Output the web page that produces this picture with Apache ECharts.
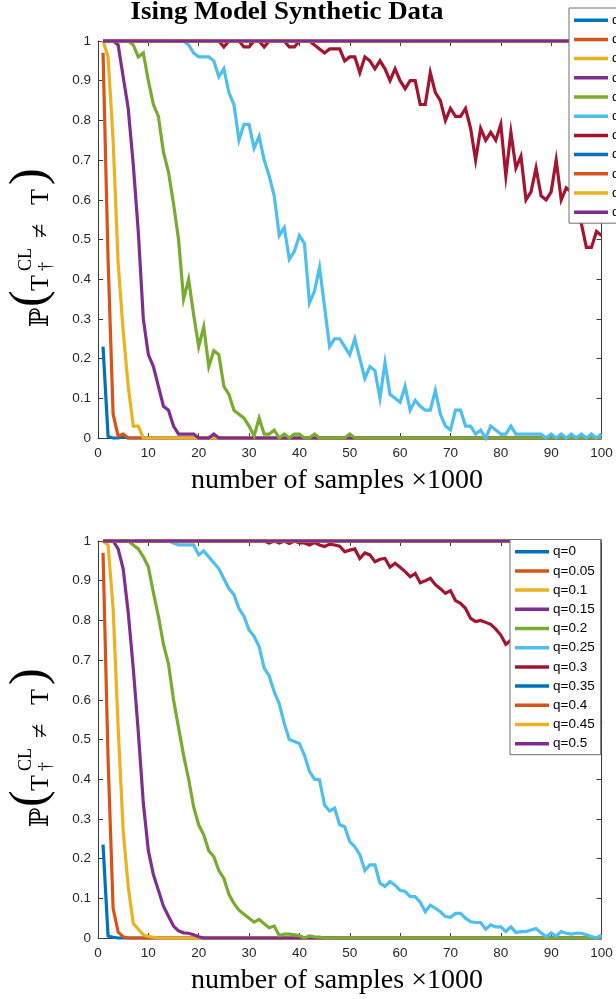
<!DOCTYPE html>
<html>
<head>
<meta charset="utf-8">
<script src="https://cdn.jsdelivr.net/npm/echarts@6/dist/echarts.min.js"></script>
<style>
  html, body { margin: 0; padding: 0; background: #fff; }
  #chart { width: 616px; height: 999px; }
</style>
</head>
<body>
<div id="chart"></div>
<script>
// Sample counts, in thousands
const samples = Array.from({ length: 100 }, (_, i) => i + 1);
const seriesNames = ['q=0', 'q=0.05', 'q=0.1', 'q=0.15', 'q=0.2', 'q=0.25', 'q=0.3', 'q=0.35', 'q=0.4', 'q=0.45', 'q=0.5'];
const xTicks = [0, 10, 20, 30, 40, 50, 60, 70, 80, 90, 100];
const yTicks = [0, 0.1, 0.2, 0.3, 0.4, 0.5, 0.6, 0.7, 0.8, 0.9, 1];

// Error probability, upper panel
const topQ0 = [
  0.23,0.004,0,0,0.003,0,0,0,0,0, 0,0,0,0,0,0,0,0,0,0, 0,0,0,0,0,0,0,0,0,0, 0,0,0,0,0,0,0,0,0,0, 0,0,0,0,0,0,0,0,0,0,
  0,0,0,0,0,0,0,0,0,0, 0,0,0,0,0,0,0,0,0,0, 0,0,0,0,0,0,0,0,0,0, 0,0,0,0,0,0,0,0,0,0, 0,0,0,0,0,0,0,0,0,0];
const topQ05 = [
  0.97,0.45,0.06,0.005,0.01,0,0,0,0,0, 0,0,0,0,0,0,0,0,0,0, 0,0,0,0,0,0,0,0,0,0, 0,0,0,0,0,0,0,0,0,0, 0,0,0,0,0,0,0,0,0,0,
  0,0,0,0,0,0,0,0,0,0, 0,0,0,0,0,0,0,0,0,0, 0,0,0,0,0,0,0,0,0,0, 0,0,0,0,0,0,0,0,0,0, 0,0,0,0,0,0,0,0,0,0];
const topQ10 = [
  1,0.96,0.75,0.44,0.27,0.13,0.03,0.03,0,0, 0,0,0,0,0,0,0,0,0,0, 0,0,0,0,0,0,0,0,0,0, 0,0,0,0,0,0,0,0,0,0, 0,0,0,0,0,0,0,0,0,0,
  0,0,0,0,0,0,0,0,0,0, 0,0,0,0,0,0,0,0,0,0, 0,0,0,0,0,0,0,0,0,0, 0,0,0,0,0,0,0,0,0,0, 0,0,0,0,0,0,0,0,0,0];
const topQ15 = [
  1,1,1,0.99,0.91,0.83,0.69,0.52,0.30,0.21,
  0.18,0.13,0.08,0.07,0.03,0.01,0.01,0.01,0.01,0,
  0,0,0.01,0,0,0,0,0,0,0, 0,0,0,0,0,0,0,0,0,0, 0,0,0,0,0,0,0,0,0,0,
  0,0,0,0,0,0,0,0,0,0, 0,0,0,0,0,0,0,0,0,0, 0,0,0,0,0,0,0,0,0,0, 0,0,0,0,0,0,0,0,0,0, 0,0,0,0,0,0,0,0,0,0];
const topQ20 = [
  1,1,1,1,1,1,0.99,0.96,0.97,0.90,
  0.84,0.81,0.72,0.67,0.59,0.50,0.35,0.40,0.31,0.23,
  0.28,0.18,0.22,0.21,0.13,0.11,0.07,0.06,0.05,0.03,
  0.005,0.05,0.01,0.01,0.02,0,0.01,0,0.01,0.01,
  0,0,0.01,0,0,0,0,0,0,0.01,
  0,0,0,0,0,0,0,0,0,0, 0,0,0,0,0,0,0,0,0,0, 0,0,0,0,0,0,0,0,0,0, 0,0,0,0,0,0,0,0,0,0, 0,0,0,0,0,0,0,0,0,0];
const topQ25 = [
  1,1,1,1,1,1,1,1,1,1,
  1,1,1,1,1,1,1,0.99,0.97,0.96,
  0.96,0.96,0.95,0.91,0.93,0.87,0.84,0.75,0.79,0.79,
  0.73,0.76,0.70,0.66,0.61,0.51,0.53,0.45,0.47,0.51,
  0.49,0.34,0.37,0.43,0.33,0.23,0.25,0.25,0.23,0.21,
  0.25,0.20,0.15,0.18,0.17,0.10,0.19,0.11,0.10,0.09,
  0.13,0.07,0.095,0.08,0.07,0.07,0.12,0.06,0.03,0.02,
  0.07,0.07,0.03,0.03,0.01,0.02,0,0.03,0.02,0.01,
  0.01,0.03,0.01,0.01,0.01,0.01,0.01,0.01,0,0.01,
  0,0.01,0,0.01,0,0.01,0,0.01,0,0.01];
const topQ30 = [
  1,1,1,1,1,1,1,1,1,1,
  1,1,1,1,1,1,1,1,1,1,
  1,1,1,1,0.985,1,1,1,0.985,0.985,
  1,1,0.985,1,1,1,1,0.985,0.985,1,
  1,1,0.99,0.98,0.97,0.98,0.98,0.98,0.95,0.96,
  0.96,0.92,0.96,0.95,0.93,0.95,0.93,0.90,0.93,0.90,
  0.88,0.90,0.90,0.84,0.84,0.92,0.87,0.85,0.80,0.83,
  0.81,0.81,0.83,0.78,0.70,0.78,0.75,0.77,0.75,0.79,
  0.66,0.77,0.68,0.71,0.60,0.62,0.68,0.61,0.60,0.62,
  0.70,0.60,0.63,0.62,0.58,0.54,0.48,0.48,0.52,0.51];
// q >= 0.35: the tree is never recovered
const flatOne = [
  1,1,1,1,1,1,1,1,1,1, 1,1,1,1,1,1,1,1,1,1, 1,1,1,1,1,1,1,1,1,1, 1,1,1,1,1,1,1,1,1,1, 1,1,1,1,1,1,1,1,1,1,
  1,1,1,1,1,1,1,1,1,1, 1,1,1,1,1,1,1,1,1,1, 1,1,1,1,1,1,1,1,1,1, 1,1,1,1,1,1,1,1,1,1, 1,1,1,1,1,1,1,1,1,1];

// Error probability, lower panel
const botQ0 = [
  0.235,0.005,0.002,0,0,0,0,0,0,0, 0,0,0,0,0,0,0,0,0,0, 0,0,0,0,0,0,0,0,0,0, 0,0,0,0,0,0,0,0,0,0, 0,0,0,0,0,0,0,0,0,0,
  0,0,0,0,0,0,0,0,0,0, 0,0,0,0,0,0,0,0,0,0, 0,0,0,0,0,0,0,0,0,0, 0,0,0,0,0,0,0,0,0,0, 0,0,0,0,0,0,0,0,0,0];
const botQ05 = [
  0.97,0.45,0.075,0.015,0.003,0,0,0,0,0, 0,0,0,0,0,0,0,0,0,0, 0,0,0,0,0,0,0,0,0,0, 0,0,0,0,0,0,0,0,0,0, 0,0,0,0,0,0,0,0,0,0,
  0,0,0,0,0,0,0,0,0,0, 0,0,0,0,0,0,0,0,0,0, 0,0,0,0,0,0,0,0,0,0, 0,0,0,0,0,0,0,0,0,0, 0,0,0,0,0,0,0,0,0,0];
const botQ10 = [
  1,0.99,0.83,0.53,0.27,0.13,0.037,0.022,0.008,0.004,
  0.002,0,0,0,0,0,0,0,0,0, 0,0,0,0,0,0,0,0,0,0, 0,0,0,0,0,0,0,0,0,0, 0,0,0,0,0,0,0,0,0,0,
  0,0,0,0,0,0,0,0,0,0, 0,0,0,0,0,0,0,0,0,0, 0,0,0,0,0,0,0,0,0,0, 0,0,0,0,0,0,0,0,0,0, 0,0,0,0,0,0,0,0,0,0];
const botQ15 = [
  1,1,1,0.98,0.93,0.82,0.68,0.52,0.34,0.22,
  0.16,0.12,0.08,0.055,0.03,0.018,0.013,0.012,0.008,0.003,
  0,0,0,0,0,0,0,0,0,0, 0,0,0,0,0,0,0,0,0,0, 0,0,0,0,0,0,0,0,0,0,
  0,0,0,0,0,0,0,0,0,0, 0,0,0,0,0,0,0,0,0,0, 0,0,0,0,0,0,0,0,0,0, 0,0,0,0,0,0,0,0,0,0, 0,0,0,0,0,0,0,0,0,0];
const botQ20 = [
  1,1,1,1,1,1,0.99,0.98,0.96,0.935,
  0.87,0.81,0.74,0.69,0.60,0.53,0.46,0.40,0.33,0.285,
  0.26,0.22,0.205,0.17,0.15,0.11,0.087,0.07,0.06,0.05,
  0.04,0.047,0.036,0.026,0.03,0.006,0.01,0.01,0.008,0.006,
  0,0.005,0.003,0.002,0,0,0,0,0,0,
  0,0,0,0,0,0,0,0,0,0, 0,0,0,0,0,0,0,0,0,0, 0,0,0,0,0,0,0,0,0,0, 0,0,0,0,0,0,0,0,0,0, 0,0,0,0,0,0,0,0,0,0];
const botQ25 = [
  1,1,1,1,1,1,1,1,1,1,
  1,1,1,1,0.995,0.99,0.99,0.99,0.99,0.965,
  0.975,0.96,0.945,0.93,0.905,0.88,0.865,0.83,0.81,0.776,
  0.76,0.734,0.68,0.66,0.62,0.59,0.54,0.50,0.495,0.49,
  0.46,0.42,0.40,0.398,0.335,0.32,0.327,0.285,0.28,0.243,
  0.23,0.21,0.17,0.184,0.184,0.138,0.13,0.142,0.133,0.12,
  0.117,0.104,0.104,0.09,0.066,0.083,0.075,0.066,0.054,0.052,
  0.062,0.062,0.05,0.041,0.039,0.039,0.022,0.033,0.028,0.028,
  0.016,0.028,0.014,0.016,0.016,0.02,0.024,0.013,0.003,0.013,
  0.005,0.016,0.012,0.01,0.012,0.012,0.008,0.004,0,0.008];
const botQ30 = [
  1,1,1,1,1,1,1,1,1,1,
  1,1,1,1,1,1,1,1,1,1,
  1,1,1,1,1,1,1,1,1,1,
  1,1,1,0.995,1,0.995,1,0.994,1,0.995,
  0.995,0.99,0.996,0.99,0.986,0.992,0.99,0.987,0.973,0.977,
  0.98,0.956,0.97,0.965,0.948,0.954,0.956,0.934,0.944,0.934,
  0.923,0.91,0.918,0.895,0.90,0.906,0.89,0.88,0.868,0.875,
  0.85,0.843,0.83,0.805,0.797,0.80,0.795,0.79,0.778,0.763,
  0.74,0.75,0.73,0.72,0.70,0.69,0.67,0.66,0.65,0.64,
  0.63,0.62,0.61,0.60,0.59,0.58,0.57,0.56,0.55,0.54];

const topValues = [topQ0, topQ05, topQ10, topQ15, topQ20, topQ25, topQ30, flatOne, flatOne, flatOne, flatOne];
const botValues = [botQ0, botQ05, botQ10, botQ15, botQ20, botQ25, botQ30, flatOne, flatOne, flatOne, flatOne];

const palette = ['#0072BD', '#D95319', '#EDB120', '#7E2F8E', '#77AC30', '#4DBEEE', '#A2142F'];
const axisColor = '#3a3a3a';
const sansFont = "'Liberation Sans', Arial, sans-serif";
const serifFont = "'Liberation Serif', 'DejaVu Serif', serif";

const chart = echarts.init(document.getElementById('chart'), null, { renderer: 'canvas' });

const grids = [
  { left: 98, width: 503.5, top: 41, height: 397 },
  { left: 98, width: 503.5, top: 541, height: 397 }
];

function bottomX(gridIndex) {
  return {
    type: 'value', gridIndex, min: 0, max: 100, interval: 10, position: 'bottom',
    axisLine: { show: true, onZero: false, lineStyle: { color: axisColor, width: 1 } },
    axisTick: { show: true, inside: true, length: 5, lineStyle: { color: axisColor } },
    axisLabel: { show: true, margin: 8, fontFamily: sansFont, fontSize: 13.5, color: '#262626' },
    splitLine: { show: false }
  };
}
function topX(gridIndex) {
  return {
    type: 'value', gridIndex, min: 0, max: 100, interval: 10, position: 'top',
    axisLine: { show: true, onZero: false, lineStyle: { color: axisColor, width: 1 } },
    axisTick: { show: true, inside: true, length: 5, lineStyle: { color: axisColor } },
    axisLabel: { show: false }, splitLine: { show: false }
  };
}
function leftY(gridIndex) {
  return {
    type: 'value', gridIndex, min: 0, max: 1, interval: 0.1, position: 'left',
    axisLine: { show: true, onZero: false, lineStyle: { color: axisColor, width: 1 } },
    axisTick: { show: true, inside: true, length: 5, lineStyle: { color: axisColor } },
    axisLabel: { show: true, margin: 7, fontFamily: sansFont, fontSize: 13.5, color: '#262626' },
    splitLine: { show: false }
  };
}
function rightY(gridIndex) {
  return {
    type: 'value', gridIndex, min: 0, max: 1, interval: 0.1, position: 'right',
    axisLine: { show: true, onZero: false, lineStyle: { color: axisColor, width: 1 } },
    axisTick: { show: true, inside: true, length: 5, lineStyle: { color: axisColor } },
    axisLabel: { show: false }, splitLine: { show: false }
  };
}

function buildSeries(values, axisIndex) {
  return values.map((vals, k) => ({
    name: seriesNames[k],
    type: 'line',
    xAxisIndex: axisIndex,
    yAxisIndex: axisIndex,
    data: samples.map((s, i) => [s, vals[i]]),
    showSymbol: false,
    clip: false,
    color: palette[k % palette.length],
    lineStyle: { width: 3.2, color: palette[k % palette.length], join: 'miter' },
    emphasis: { disabled: true }
  }));
}

function legendAt(left, top) {
  return {
    data: seriesNames,
    orient: 'vertical',
    left, top,
    icon: 'rect',
    itemWidth: 34,
    itemHeight: 3.5,
    itemGap: 3.2,
    padding: [4.2, 6, 3, 5],
    backgroundColor: '#fff',
    borderColor: '#6e6e6e',
    borderWidth: 1,
    borderRadius: 0,
    selectedMode: false,
    textStyle: { fontFamily: sansFont, fontSize: 13.5, color: '#000', lineHeight: 16, padding: [0, 0, 0, -1] }
  };
}

// Rotated probability label: P( T_dagger^CL != T )
function probLabel(cx, startY) {
  const piece = (text, lx, ly, size, extra) => Object.assign({
    type: 'text', x: lx, y: ly,
    style: { text, font: size + 'px ' + serifFont, fill: '#000', textAlign: 'left', textVerticalAlign: 'middle' }
  }, extra || {});
  return {
    type: 'group', x: cx, y: startY, rotation: Math.PI / 2, silent: true,
    children: [
      piece('\u2119', 0, 0, 26),
      piece('(', 20, -11, 50),
      piece('T', 36, 0, 26),
      piece('CL', 56, -15, 18),
      piece('\u2020', 56, 5, 18),
      piece('\u2260', 89, 0, 26),
      piece('T', 122, 0, 26),
      piece(')', 142, -11, 50)
    ]
  };
}

function xName(cx, cy) {
  return {
    type: 'text', x: cx, y: cy, silent: true,
    style: { text: 'number of samples \u00d71000', font: '28px ' + serifFont, fill: '#000', textAlign: 'center', textVerticalAlign: 'middle' }
  };
}

const option = {
  animation: false,
  backgroundColor: '#fff',
  grid: grids,
  xAxis: [bottomX(0), topX(0), bottomX(1), topX(1)],
  yAxis: [leftY(0), rightY(0), leftY(1), rightY(1)],
  legend: [legendAt(569, 8), legendAt(510, 539.5)],
  series: buildSeries(topValues, 0).concat(buildSeries(botValues, 2)),
  graphic: [
    {
      type: 'text', x: 287, y: 13, scaleX: 1.075, silent: true,
      style: { text: 'Ising Model Synthetic Data', font: 'bold 25px ' + serifFont, fill: '#000', textAlign: 'center', textVerticalAlign: 'middle' }
    },
    xName(337, 481),
    xName(337, 981),
    probLabel(41.5, 327),
    probLabel(41.5, 827)
  ]
};

chart.setOption(option);
</script>
</body>
</html>
